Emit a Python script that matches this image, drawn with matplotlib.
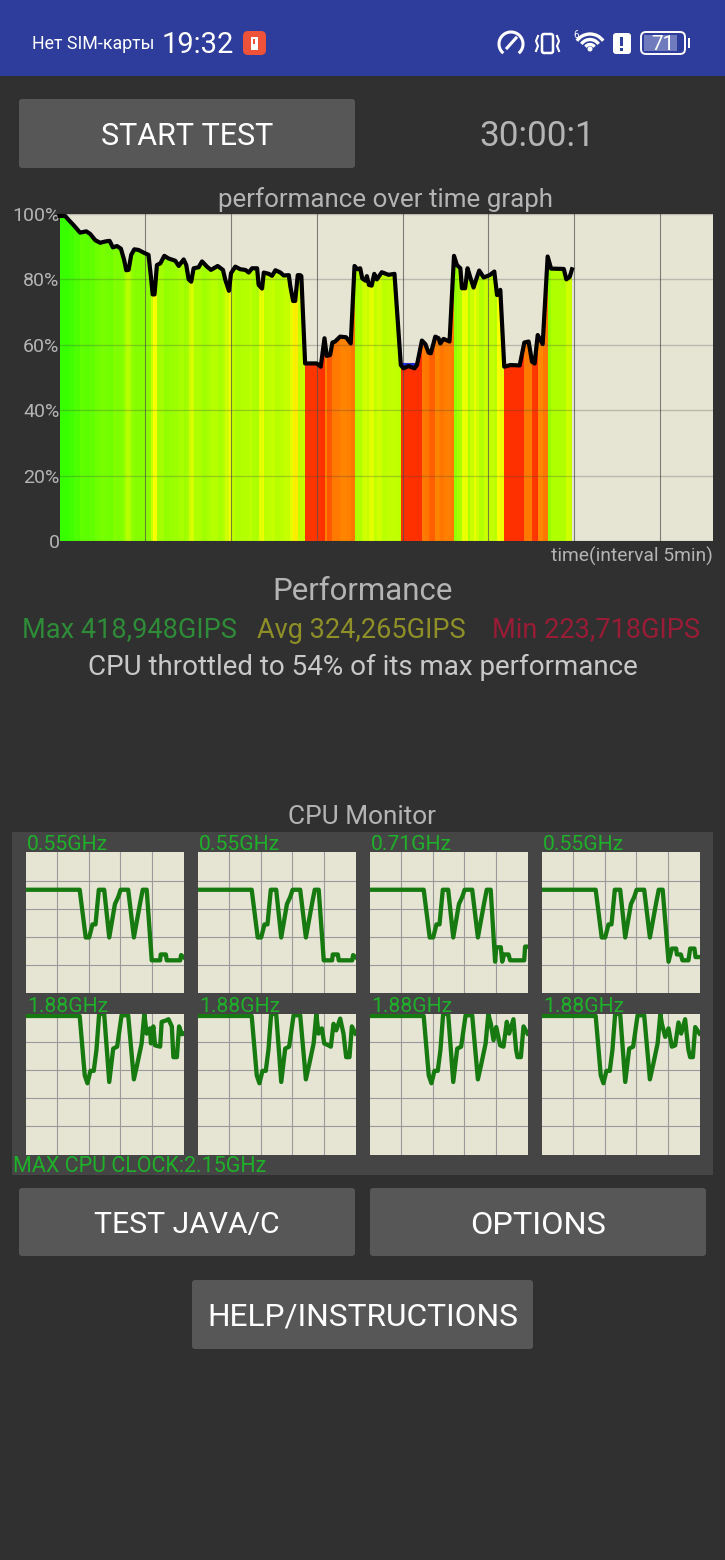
#recreate CPU throttling test screen

import numpy as np
import matplotlib
matplotlib.use("Agg")
import matplotlib.pyplot as plt
from matplotlib.colors import LinearSegmentedColormap, Normalize
from matplotlib.patches import FancyBboxPatch, Rectangle, Polygon, Arc, Circle

plt.rcParams['font.family'] = ['Roboto', 'DejaVu Sans']

W = 725
H = 1560

# performance trace: minutes, percent of max
perf_t = [0, .33, .53, .82, 1.2, 1.56, 1.79, 2.08, 2.37, 2.67, 2.92, 3.11, 3.35, 3.58, 3.77, 3.89, 4.03, 4.18,
          4.36, 4.61, 4.9, 5.19, 5.33, 5.43, 5.54, 5.68, 5.88, 6.11, 6.36, 6.75, 6.95, 7.24, 7.39, 7.53, 7.68,
          7.82, 8.11, 8.31, 8.6, 8.83, 9.22, 9.53, 9.67, 9.88, 10, 10.25, 10.54, 10.84, 11.03, 11.23, 11.52,
          11.61, 11.81, 11.91, 12.2, 12.39, 12.59, 12.88, 13.07, 13.37, 13.46, 13.62, 13.74, 13.89, 14.03, 14.1,
          14.32, 14.63, 15, 15.23, 15.45, 15.58, 15.78, 15.91, 16.07, 16.36, 16.71, 16.98, 17.2, 17.37, 17.53,
          17.65, 17.84, 17.92, 18.04, 18.2, 18.35, 18.5, 18.79, 19.18, 19.53, 19.9, 20.06, 20.35, 20.7, 20.84,
          21.13, 21.33, 21.52, 21.65, 21.91, 22.1, 22.2, 22.39, 22.74, 23.0, 23.17, 23.37, 23.46, 23.65, 23.79,
          23.95, 24.14, 24.28, 24.47, 24.73, 25.08, 25.35, 25.51, 25.7, 25.93, 26.28, 26.83, 27.1, 27.35, 27.55,
          27.7, 27.88, 28.17, 28.46, 28.66, 29.4, 29.55, 29.75, 29.88]
perf_v = [99.4, 99.4, 98.2, 96.6, 94.3, 94.7, 93.9, 92, 91.2, 91.6, 91.8, 89.8, 90.2, 89.4, 85.9, 82.8, 82.9, 87.5,
          89.2, 89, 88.2, 87.5, 80.8, 75.4, 75.4, 84.4, 84.9, 87.2, 86.4, 85.7, 84.1, 86.1, 84.4, 80, 79.3,
          83.4, 83.7, 85.5, 83.9, 82.9, 84.1, 82.9, 79.8, 76.5, 81.9, 83.9, 83.1, 82.9, 82.1, 83.4, 83.4,
          78.3, 77.2, 82.1, 81.7, 81.1, 82.8, 82.1, 81.2, 81.3, 77.8, 73.4, 73.4, 81.3, 81.3, 81,
          54.3, 54.3, 54.3, 53.3, 62, 56.6, 56.9, 60.7, 61, 62.5, 62.3, 60.4, 84.1, 83.1, 83.4,
          80.3, 79.6, 81, 78.3, 78.1, 81.7, 80, 82.2, 81.4, 81.7, 53.8, 52.8, 53.5, 52.8, 53.8,
          61.3, 60.2, 57.6, 57.4, 62.5, 62, 60.4, 61.8, 61, 87.2, 84.4, 83.4, 77.3, 77.3, 83.4,
          80.6, 77.5, 79.8, 82.7, 80.6, 81.3, 82.4, 75.2, 76.8, 53.3, 53.8, 53.7, 60.7, 61, 54.8,
          54.3, 63, 60.2, 87, 83.3, 83.2, 80, 80.8, 83.1]
blue_t = [19.9, 20.84]
blue_v = [54.2, 54.2]

# band colour by performance level
level_stops = [50, 54, 58, 62, 70, 75, 80, 84, 90, 100]
level_colors = ['#ff3000', '#ff3000', '#ff6a00', '#ff8000', '#ffc800', '#ffff00', '#d0ff00', '#aaff00', '#80ff00', '#33ff00']

# cpu traces: percent of window, GHz
little_head_t = [0, 34.3, 38.1, 40.3, 42.4, 44.3, 46.4, 49.8, 53, 56.6, 58.7, 60.2, 65, 68.6, 72.5, 74.2, 76.7]
little_head_v = [1.58, 1.58, .85, .85, 1.05, 1.05, 1.58, 1.58, .85, 1.36, 1.47, 1.58, 1.58, .85, 1.37, 1.58, 1.58]
little_tail_t = [
    [79.9, 85.2, 85.6, 88.8, 89.4, 97.9, 98.5, 100],
    [79.9, 85.2, 85.6, 88.8, 89.4, 97.9, 98.5, 100],
    [79.5, 80.2, 83.1, 84, 85.2, 88, 89, 97.9, 98.5, 100],
    [80.4, 82.5, 85.2, 85.7, 88.2, 89.2, 93, 94.1, 96.8, 97.5, 100],
]
little_tail_v = [
    [.5, .5, .59, .59, .5, .5, .58, .55],
    [.5, .5, .59, .59, .5, .5, .58, .55],
    [.48, .7, .7, .48, .59, .59, .5, .5, .71, .71],
    [.48, .68, .68, .59, .59, .5, .5, .68, .68, .55, .55],
]
big_head_t = [0, 34.3, 37.5, 39.2, 41.1, 43.2, 44.9, 46.6, 49.8, 53, 55.5, 58, 60.8, 65, 68.6, 70.8, 73.5, 75.2]
big_head_v = [2.12, 2.12, 1.21, 1.09, 1.28, 1.28, 1.6, 2.15, 2.15, 1.11, 1.62, 1.65, 2.13, 2.13, 1.15, 1.39, 1.7, 2.15]
big_tail_t = [
    [76.7, 78.8, 79.4, 80.9, 82, 85.2, 86.2, 88.8, 90.5, 92.6, 93.6, 95.8, 97.2, 99, 100],
    [76.6, 78.7, 80.2, 82.9, 84.4, 86.1, 87.8, 90.3, 92.4, 94.1, 96.2, 97.7, 100],
    [76.8, 78.5, 80.2, 82.7, 84.8, 86.9, 88.4, 91.1, 92.8, 93.7, 95.8, 97.5, 100],
    [76.2, 78.3, 80.4, 82.5, 84.6, 86.7, 88.4, 90.9, 93, 94.1, 95.8, 97.3, 100],
]
big_tail_v = [
    [1.85, 1.93, 1.7, 1.96, 1.67, 1.65, 2.03, 2.05, 2.07, 1.96, 1.49, 1.49, 1.96, 1.84, 1.85],
    [1.85, 1.93, 1.7, 1.67, 1.65, 2.0, 1.9, 2.08, 1.85, 1.49, 1.49, 1.96, 1.85],
    [2.0, 1.75, 1.95, 1.67, 1.65, 2.03, 1.85, 2.07, 1.6, 1.49, 1.49, 1.96, 1.85],
    [2.0, 1.8, 1.93, 1.65, 1.67, 2.02, 1.85, 2.07, 1.6, 1.49, 1.49, 1.95, 1.85],
]
little_labels = ['0.55GHz', '0.55GHz', '0.71GHz', '0.55GHz']
big_labels = ['1.88GHz', '1.88GHz', '1.88GHz', '1.88GHz']
y_tick_vals = [0, 20, 40, 60, 80, 100]
y_tick_labels = ['0', '20%', '40%', '60%', '80%', '100%']

BG = '#303030'
PAPER = '#e6e4d3'
GRAY = '#b4b4b4'
CPU_GREEN = '#167a10'
LABEL_GREEN = '#1fb02a'


def px_axes(fig, x0, y0, x1, y1):
    return fig.add_axes([x0 / W, 1 - y1 / H, (x1 - x0) / W, (y1 - y0) / H])


fig = plt.figure(figsize=(W / 100, H / 100), dpi=100, facecolor=BG)

# page layer in pixel coordinates
page = fig.add_axes([0, 0, 1, 1])
page.set_xlim(0, W)
page.set_ylim(H, 0)
page.axis('off')


def button(x0, y0, x1, y1, label, size=22):
    page.add_patch(FancyBboxPatch((x0, y0), x1 - x0, y1 - y0, boxstyle="round,pad=0,rounding_size=3",
                                  fc='#575757', ec='none'))
    page.text((x0 + x1) / 2, (y0 + y1) / 2 + 3, label, color='white', fontsize=size, ha='center', va='center')


# status bar
page.add_patch(Rectangle((0, 0), W, 76, fc='#2e3d9b', ec='none'))
page.text(32, 44, 'Нет SIM-карты', color='white', fontsize=12.8, va='center')
page.text(162, 45, '19:32', color='white', fontsize=21, va='center')
page.add_patch(FancyBboxPatch((243, 31), 23, 24, boxstyle="round,pad=0,rounding_size=5", fc='#ee5238', ec='none'))
page.add_patch(Rectangle((251, 37), 7, 13, fc='white', ec='none'))
page.add_patch(Rectangle((253.5, 39), 2, 5, fc='#ee5238', ec='none'))
page.add_patch(Arc((511, 44), 24, 24, theta1=130, theta2=50, color='white', lw=2.2))
page.plot([507, 516], [48, 38], color='white', lw=2.2)
page.add_patch(FancyBboxPatch((542, 34), 11, 19, boxstyle="round,pad=0,rounding_size=2", fc='none', ec='white', lw=1.8))
page.plot([538, 536, 538, 536], [36, 41, 46, 51], color='white', lw=1.5)
page.plot([557, 559, 557, 559], [36, 41, 46, 51], color='white', lw=1.5)
for d in [32, 21, 11]:
    page.add_patch(Arc((590, 50), d, d, theta1=215, theta2=325, color='white', lw=2.4))
page.add_patch(Circle((590, 49), 2.5, fc='white', ec='none'))
page.text(576, 35, '6', color='white', fontsize=7, ha='center', va='center')
page.add_patch(FancyBboxPatch((613, 33), 18, 21, boxstyle="round,pad=0,rounding_size=3", fc='white', ec='none'))
page.add_patch(Rectangle((620.5, 37), 3, 9, fc='#2e3d9b', ec='none'))
page.add_patch(Rectangle((620.5, 48), 3, 3, fc='#2e3d9b', ec='none'))
page.add_patch(FancyBboxPatch((641, 32), 44, 22, boxstyle="round,pad=0,rounding_size=5", fc='none', ec='white', lw=1.4))
page.add_patch(Rectangle((644, 35), 33, 16, fc='#6f7bbd', ec='none'))
page.add_patch(Rectangle((688, 38), 2, 10, fc='white', ec='none'))
page.text(663, 44, '71', color='white', fontsize=15, ha='center', va='center')

# buttons and texts
button(19, 99, 355, 168, 'START TEST')
button(19, 1188, 355, 1256, 'TEST JAVA/C', 21.7)
button(370, 1188, 706, 1256, 'OPTIONS', 23.4)
button(192, 1280, 533, 1349, 'HELP/INSTRUCTIONS', 22.8)
page.text(537, 136, '30:00:1', color=GRAY, fontsize=25.3, ha='center', va='center')
page.text(386, 200, 'performance over time graph', color=GRAY, fontsize=18.7, ha='center', va='center')
page.text(713, 556, 'time(interval 5min)', color=GRAY, fontsize=13.9, ha='right', va='center')
page.text(363, 591, 'Performance', color=GRAY, fontsize=22.5, ha='center', va='center')
page.text(22, 630, 'Max 418,948GIPS', color='#2e8b38', fontsize=19.5, va='center')
page.text(257, 630, 'Avg 324,265GIPS', color='#8f8f28', fontsize=19.5, va='center')
page.text(492, 630, 'Min 223,718GIPS', color='#991c36', fontsize=19.5, va='center')
page.text(363, 667, 'CPU throttled to 54% of its max performance', color='#c8c8c8', fontsize=20, ha='center', va='center')
page.text(362, 817, 'CPU Monitor', color=GRAY, fontsize=18.9, ha='center', va='center')
page.add_patch(Rectangle((12, 832), 701, 343, fc='#454545', ec='none'))
page.text(13, 1167, 'MAX CPU CLOCK:2.15GHz', color=LABEL_GREEN, fontsize=15.5, va='center')

# main performance graph
ax = px_axes(fig, 59.5, 214, 713, 541)
ax.set_facecolor(PAPER)
ax.set_xlim(0, 38.1)
ax.set_ylim(0, 100)
cmap = LinearSegmentedColormap.from_list('perf', [((s - 50) / 50, c) for s, c in zip(level_stops, level_colors)])
t = np.array(perf_t)
v = np.array(perf_v)
mesh = ax.pcolormesh(t, [0, 100], v[:-1][None, :], cmap=cmap, norm=Normalize(50, 100), shading='flat', zorder=1)
outline = Polygon(np.column_stack([np.r_[t, t[-1], t[0]], np.r_[v, 0, 0]]), transform=ax.transData)
mesh.set_clip_path(outline)
ax.set_axisbelow(False)
ax.grid(True, axis='y', color='#3c3c3c', alpha=0.25, lw=1.0)
ax.grid(True, axis='x', color='#505050', alpha=0.7, lw=0.8)
ax.set_xticks(np.arange(5, 36, 5))
ax.set_xticklabels([])
ax.set_yticks(y_tick_vals)
ax.set_yticklabels(y_tick_labels)
ax.tick_params(length=0, pad=0, labelsize=14, labelcolor=GRAY)
for s in ax.spines.values():
    s.set_visible(False)
ax.plot(blue_t, blue_v, color='#1a2bd8', lw=2.2, zorder=3)
ax.plot(t, v, color='black', lw=3.0, zorder=4, clip_on=False, solid_joinstyle='round')

# cpu monitor graphs
col_x = [25.5, 197.5, 369.5, 541.5]
for i, x0 in enumerate(col_x):
    rows = [(852.5, 993, little_head_t + little_tail_t[i], little_head_v + little_tail_v[i], little_labels[i]),
            (1014, 1154.5, big_head_t + big_tail_t[i], big_head_v + big_tail_v[i], big_labels[i])]
    for y0, y1, ct, cv, label in rows:
        a = px_axes(fig, x0, y0, x0 + 158, y1)
        a.set_facecolor(PAPER)
        a.set_xlim(0, 100)
        a.set_ylim(0, 2.15)
        a.set_xticks([20, 40, 60, 80])
        a.set_yticks([0.43, 0.86, 1.29, 1.72])
        a.set_xticklabels([])
        a.set_yticklabels([])
        a.tick_params(length=0)
        a.grid(True, color='#9a9a9a', lw=0.8)
        a.set_axisbelow(True)
        for s in a.spines.values():
            s.set_visible(False)
        a.plot(ct, cv, color=CPU_GREEN, lw=3.1, solid_joinstyle='round')
        page.text(x0 + 1.5, y0 - 8, label, color=LABEL_GREEN, fontsize=15.2, va='center', zorder=5)

fig.savefig('out.png', dpi=100, facecolor=BG)
